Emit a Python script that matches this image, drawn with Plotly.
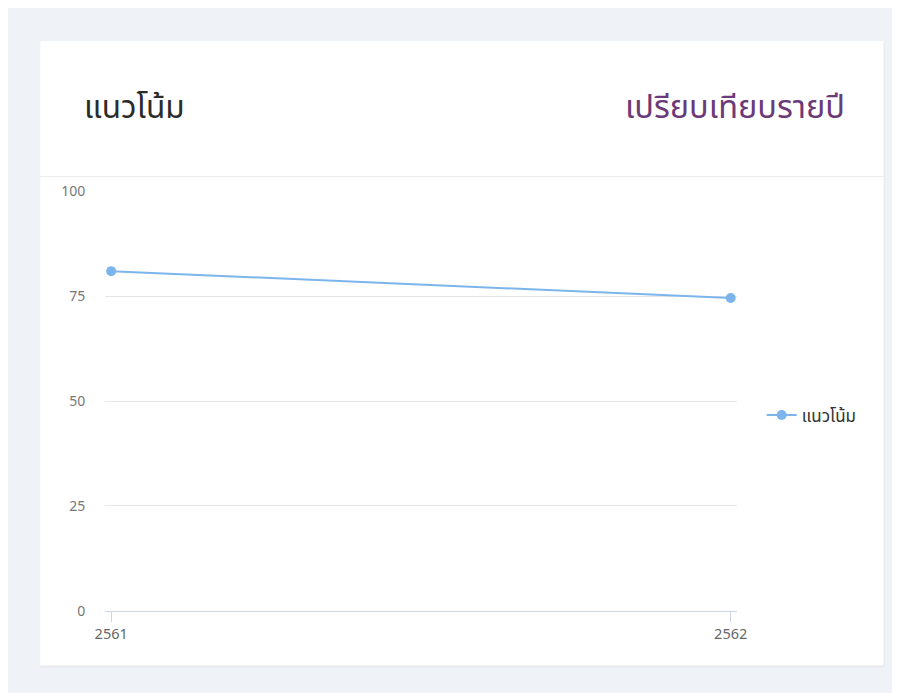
import plotly.graph_objects as go

years = [2561, 2562]
values = [81.0, 74.6]
series_name = "แนวโน้ม"
title_left = "แนวโน้ม"
title_right = "เปรียบเทียบรายปี"
y_ticks = [0, 25, 50, 75, 100]

W, H = 900, 693
OFF = 8

# screen-position correction (measured from rendering)
def sx(s): return 40 + (s - 50) / 0.9763
def sy(s): return 190 + (s - 193) / 0.9739
def px(x): return (sx(x) - OFF) / W
def py(y): return 1 - (sy(y) - OFF) / H

FONT = "Noto Sans Thai, Noto Sans, sans-serif"

fig = go.Figure()
fig.add_trace(go.Scatter(
    x=years, y=values, mode="lines+markers", name=series_name,
    line=dict(color="#7cb5ec", width=2),
    marker=dict(color="#7cb5ec", size=10),
))

shapes = [
    # soft shadow
    dict(type="rect", xref="paper", yref="paper", x0=px(40), x1=px(885), y0=py(668), y1=py(40),
         fillcolor="#e6e9ed", line=dict(width=0), layer="below"),
    # card
    dict(type="rect", xref="paper", yref="paper", x0=px(40), x1=px(884), y0=py(666), y1=py(39),
         fillcolor="white", line=dict(width=0), layer="below"),
    # header divider
    dict(type="line", xref="paper", yref="paper", x0=px(40), x1=px(884), y0=py(175), y1=py(175),
         line=dict(color="#eaecef", width=1), layer="below"),
]

annotations = [
    dict(text=title_left, xref="paper", yref="paper", x=px(82), y=py(107), xanchor="left", yanchor="middle",
         showarrow=False, font=dict(size=31.5, color="#2b2b2b", family=FONT)),
    dict(text=title_right, xref="paper", yref="paper", x=px(847), y=py(107), xanchor="right", yanchor="middle",
         showarrow=False, font=dict(size=32.5, color="#6b3a78", family=FONT)),
]

pad = 6 / 620
fig.update_layout(
    width=W, height=H, autosize=False,
    margin=dict(l=0, r=0, t=0, b=0),
    paper_bgcolor="#eff2f6", plot_bgcolor="rgba(0,0,0,0)",
    shapes=shapes, annotations=annotations,
    font=dict(family=FONT, color="#666666", size=14),
    xaxis=dict(domain=[px(105), px(737)], range=[2561 - pad, 2562 + pad],
               tickvals=years, ticktext=[str(y) for y in years],
               showgrid=False, zeroline=False, showline=True, linecolor="#ccd6eb", linewidth=1,
               ticks="outside", ticklen=10, tickcolor="#ccd6eb",
               tickfont=dict(size=14.5, color="#666666", family=FONT)),
    yaxis=dict(domain=[py(611), py(190)], range=[0, 100], tickvals=y_ticks,
               showgrid=True, gridcolor="#e6e6e6", zeroline=False, showline=False,
               ticks="outside", ticklen=16, tickcolor="rgba(0,0,0,0)",
               tickfont=dict(size=14, color="#777777", family=FONT)),
    showlegend=True,
    legend=dict(x=px(762), y=py(415), xanchor="left", yanchor="middle", bgcolor="rgba(0,0,0,0)",
                font=dict(size=17, color="#333333", family=FONT), itemwidth=30),
)

fig.write_html("out.html")
